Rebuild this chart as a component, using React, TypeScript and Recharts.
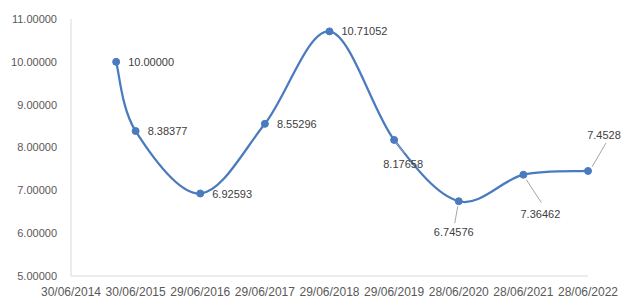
import { LineChart, Line, XAxis, YAxis, LabelList } from 'recharts';

const tickDates = [
  '30/06/2014', '30/06/2015', '29/06/2016', '29/06/2017', '29/06/2018',
  '29/06/2019', '28/06/2020', '28/06/2021', '28/06/2022',
];
const pointDates = [
  '12/03/2015', '30/06/2015', '29/06/2016', '29/06/2017', '29/06/2018',
  '29/06/2019', '28/06/2020', '28/06/2021', '28/06/2022',
];
const pointValues = [
  '10.00000', '8.38377', '6.92593', '8.55296', '10.71052',
  '8.17658', '6.74576', '7.36462', '7.4528',
];
const yTicks = [5, 6, 7, 8, 9, 10, 11];

const BLUE = '#4a7bbf';

const toTime = (s: string) => {
  const [d, m, y] = s.split('/').map(Number);
  return Date.UTC(y, m - 1, d);
};

const data = pointDates.map((d, i) => ({
  t: toTime(d),
  value: Number(pointValues[i]),
  label: pointValues[i],
}));
const ticks = tickDates.map(toTime);
const tickName: Record<number, string> = {};
tickDates.forEach((d) => (tickName[toTime(d)] = d));

// label placement: text anchor offset from the point, optional leader line
const labelPlace = [
  { dx: 12, dy: 0, anchor: 'start' },
  { dx: 12, dy: 0, anchor: 'start' },
  { dx: 12, dy: 0, anchor: 'start' },
  { dx: 12, dy: 0, anchor: 'start' },
  { dx: 12, dy: 0, anchor: 'start' },
  { dx: 9, dy: 24, anchor: 'middle', lead: [2, 3, 10, 13] },
  { dx: -5, dy: 31, anchor: 'middle', lead: [-1, 5, -4, 22] },
  { dx: 17, dy: 39, anchor: 'middle', lead: [3, 5, 18, 28] },
  { dx: 16, dy: -36, anchor: 'middle', lead: [4, -4, 18, -28] },
];

// Excel-like smoothing (Catmull-Rom style bezier)
const excelCurve = (context: any) => {
  let pts: number[][] = [];
  return {
    areaStart() {},
    areaEnd() {},
    lineStart() {
      pts = [];
    },
    point(x: number, y: number) {
      pts.push([+x, +y]);
    },
    lineEnd() {
      if (!pts.length) return;
      context.moveTo(pts[0][0], pts[0][1]);
      for (let i = 0; i < pts.length - 1; i++) {
        const p0 = pts[i - 1] || pts[i];
        const p1 = pts[i];
        const p2 = pts[i + 1];
        const p3 = pts[i + 2] || p2;
        context.bezierCurveTo(
          p1[0] + (p2[0] - p0[0]) / 6,
          p1[1] + (p2[1] - p0[1]) / 6,
          p2[0] - (p3[0] - p1[0]) / 6,
          p2[1] - (p3[1] - p1[1]) / 6,
          p2[0],
          p2[1]
        );
      }
    },
  };
};

const renderLabel = (props: any) => {
  const { x, y, index, value } = props;
  const p = labelPlace[index];
  if (!p) return null;
  return (
    <g>
      {p.lead && (
        <line
          x1={x + p.lead[0]}
          y1={y + p.lead[1]}
          x2={x + p.lead[2]}
          y2={y + p.lead[3]}
          stroke="#a6a6a6"
          strokeWidth={1}
        />
      )}
      <text
        x={x + p.dx}
        y={y + p.dy}
        textAnchor={p.anchor}
        dominantBaseline="central"
        fontSize={11}
        fill="#404040"
      >
        {value}
      </text>
    </g>
  );
};

export default function App() {
  return (
    <div style={{ width: 625, height: 300, fontFamily: '"Liberation Sans", Arial, sans-serif' }}>
      <style>{'body{margin:0}'}</style>
      <LineChart width={625} height={300} data={data} margin={{ top: 19, right: 37, bottom: 0, left: 0 }}>
        <XAxis
          dataKey="t"
          type="number"
          domain={[ticks[0], ticks[ticks.length - 1]]}
          ticks={ticks}
          tickFormatter={(v: number) => tickName[v] ?? ''}
          interval={0}
          height={24}
          stroke="#d9d9d9"
          tickLine={false}
          tickSize={0}
          tickMargin={11}
          tick={{ fill: '#595959', fontSize: 12 }}
        />
        <YAxis
          type="number"
          domain={[5, 11]}
          ticks={yTicks}
          tickFormatter={(v: number) => v.toFixed(5)}
          width={71}
          stroke="#d9d9d9"
          tickLine={false}
          tickSize={0}
          tickMargin={14}
          tick={{ fill: '#595959', fontSize: 11 }}
        />
        <Line
          dataKey="value"
          type={excelCurve as any}
          stroke={BLUE}
          strokeWidth={2.25}
          dot={{ r: 3.5, fill: BLUE, stroke: BLUE, strokeWidth: 1 }}
          activeDot={false}
          isAnimationActive={false}
        >
          <LabelList dataKey="label" content={renderLabel} />
        </Line>
      </LineChart>
    </div>
  );
}
